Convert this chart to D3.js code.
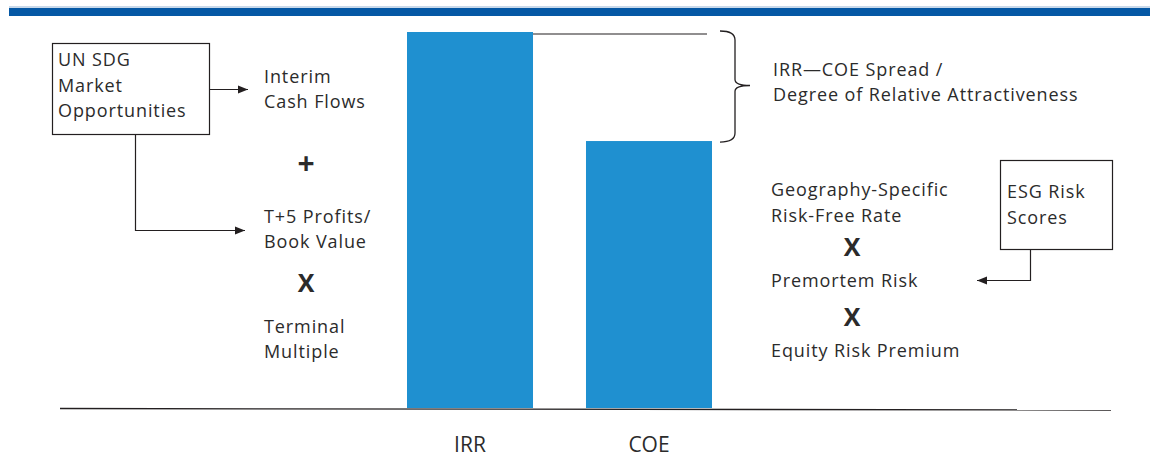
<!DOCTYPE html>
<style>
	body { margin: 0; background: #fff; }
	text { font-family: "Open Sans", "Noto Sans", sans-serif; fill: #2b2b2b; }
	.lbl { letter-spacing: 0.9px; }
</style>
<svg width="1150" height="472"></svg>
<script src="https://d3js.org/d3.v7.min.js"></script>
<script>

	var categories = ["IRR", "COE"];
	var values = [100, 71];
	var leftTerms = ["Interim|Cash Flows", "+", "T+5 Profits/|Book Value", "X", "Terminal|Multiple"];
	var rightTerms = ["Geography-Specific|Risk-Free Rate", "X", "Premortem Risk", "X", "Equity Risk Premium"];
	var spreadLabel = ["IRR\u2014COE Spread /", "Degree of Relative Attractiveness"];
	var sdgBox = ["UN SDG", "Market", "Opportunities"];
	var esgBox = ["ESG Risk", "Scores"];

	var svg = d3.select("svg");

	svg.append("defs").append("marker")
		.attr("id", "arr")
		.attr("viewBox", "0 0 10 10")
		.attr("refX", 10).attr("refY", 5)
		.attr("markerWidth", 10).attr("markerHeight", 10)
		.attr("markerUnits", "userSpaceOnUse")
		.attr("orient", "auto")
		.append("path").attr("d", "M0,1L10,5L0,9Z").attr("fill", "#231f20");

	// top band
	svg.append("rect").attr("x", 9).attr("y", 6).attr("width", 1141).attr("height", 2).attr("fill", "#c9d9ea");
	svg.append("rect").attr("x", 9).attr("y", 8).attr("width", 1141).attr("height", 8).attr("fill", "#0558a5");

	var x = d3.scaleBand().domain(categories).range([407, 712]).paddingInner(0.296).paddingOuter(0);
	var y = d3.scaleLinear().domain([0, 100]).range([408, 32]);

	svg.selectAll(".bar")
		.data(categories)
		.enter().append("rect")
		.attr("class", "bar")
		.attr("x", function(d) { return x(d); })
		.attr("y", function(d, i) { return y(values[i]); })
		.attr("width", x.bandwidth())
		.attr("height", function(d, i) { return y(0) - y(values[i]); })
		.attr("fill", "#1f90d0");

	// baseline
	svg.append("line").attr("x1", 60).attr("y1", 408.5).attr("x2", 1111).attr("y2", 410)
		.attr("stroke", "#231f20").attr("stroke-width", 1.3);

	svg.selectAll(".cat")
		.data(categories)
		.enter().append("text")
		.attr("x", function(d) { return x(d) + x.bandwidth() / 2; })
		.attr("y", 452)
		.attr("text-anchor", "middle")
		.style("font-size", "21px")
		.text(function(d) { return d; });

	// spread line + brace
	var yTop = y(values[0]), yLow = y(values[1]);
	svg.append("line").attr("x1", x("IRR") + x.bandwidth()).attr("y1", yTop + 2)
		.attr("x2", 707).attr("y2", yTop + 2).attr("stroke", "#231f20").attr("stroke-width", 1.2);

	var mid = (yTop + yLow) / 2 - 1;
	svg.append("path")
		.attr("d", "M720," + (yTop - 1) + " Q735," + (yTop - 1) + " 735," + (yTop + 8) +
			" L735," + (mid - 6) + " Q735," + mid + " 750," + mid +
			" Q735," + mid + " 735," + (mid + 6) +
			" L735," + (yLow - 8) + " Q735," + (yLow + 1) + " 720," + (yLow + 1))
		.attr("fill", "none").attr("stroke", "#231f20").attr("stroke-width", 1.3);

	function lines(g, arr, x0, y0, lh, size) {
		arr.forEach(function(t, i) {
			g.append("text").attr("class", "lbl").attr("x", x0).attr("y", y0 + i * lh).style("font-size", size).text(t);
		});
	}

	lines(svg, spreadLabel, 773, 76, 25, "18px");

	// UN SDG box
	svg.append("rect").attr("x", 52.5).attr("y", 43.5).attr("width", 157).attr("height", 91)
		.attr("fill", "none").attr("stroke", "#231f20").attr("stroke-width", 1.2);
	lines(svg, sdgBox, 58, 66, 25.5, "18px");

	svg.append("line").attr("x1", 210).attr("y1", 89.5).attr("x2", 248).attr("y2", 89.5)
		.attr("stroke", "#231f20").attr("stroke-width", 1.2).attr("marker-end", "url(#arr)");
	svg.append("path").attr("d", "M135.5,135 L135.5,230.5 L245,230.5")
		.attr("fill", "none").attr("stroke", "#231f20").attr("stroke-width", 1.2).attr("marker-end", "url(#arr)");

	// left terms
	var leftY = [83, 174, 223, 292, 333];
	leftTerms.forEach(function(t, i) {
		var parts = t.split("|");
		if (parts.length === 1) {
			svg.append("text").attr("x", 306).attr("y", leftY[i]).attr("text-anchor", "middle")
				.style("font-size", t === "+" ? "30px" : "25px").style("font-weight", "bold").text(t);
		} else {
			lines(svg, parts, 264, leftY[i], 25, "18px");
		}
	});

	// right terms
	var rightY = [196, 256, 287, 326, 357];
	rightTerms.forEach(function(t, i) {
		var parts = t.split("|");
		if (t === "X") {
			svg.append("text").attr("x", 852).attr("y", rightY[i]).attr("text-anchor", "middle")
				.style("font-size", "25px").style("font-weight", "bold").text(t);
		} else {
			lines(svg, parts, 771, rightY[i], 26, "18px");
		}
	});

	// ESG box
	svg.append("rect").attr("x", 1000.5).attr("y", 160.5).attr("width", 112).attr("height", 89)
		.attr("fill", "none").attr("stroke", "#231f20").attr("stroke-width", 1.2);
	lines(svg, esgBox, 1007, 198, 26, "18px");
	svg.append("path").attr("d", "M1030.5,250 L1030.5,280.5 L977,280.5")
		.attr("fill", "none").attr("stroke", "#231f20").attr("stroke-width", 1.2).attr("marker-end", "url(#arr)");

</script>
